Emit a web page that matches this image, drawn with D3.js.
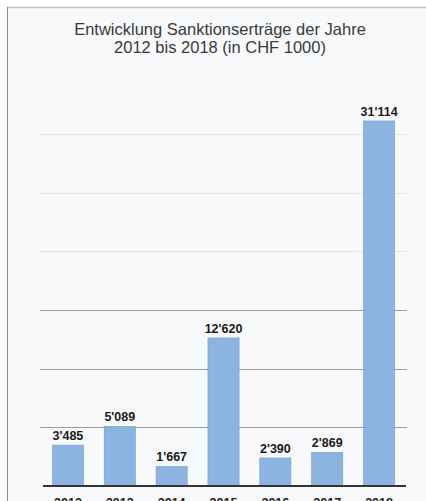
<!DOCTYPE html>
<html>
<head>
<meta charset="utf-8">
<script src="https://cdn.jsdelivr.net/npm/d3@7"></script>
<style>
  html, body { margin: 0; padding: 0; background: #ffffff; }
  svg { display: block; }
</style>
</head>
<body>
<svg id="chart" width="426" height="501"></svg>
<script>
const years = ["2012", "2013", "2014", "2015", "2016", "2017", "2018"];
const values = [3485, 5089, 1667, 12620, 2390, 2869, 31114];
const valueLabels = ["3'485", "5'089", "1'667", "12'620", "2'390", "2'869", "31'114"];
const gridTicks = [5000, 10000, 15000, 20000, 25000, 30000];
const titleLines = ["Entwicklung Sanktionserträge der Jahre", "2012 bis 2018 (in CHF 1000)"];

const svg = d3.select("#chart");
const W = 426, H = 501;

// panel background and frame
svg.append("rect").attr("x", 0).attr("y", 0).attr("width", W).attr("height", H).attr("fill", "#ffffff");
svg.append("rect").attr("x", 7).attr("y", 7).attr("width", W - 7).attr("height", H - 7).attr("fill", "#f8f9fa");
svg.append("line").attr("x1", 7).attr("x2", W).attr("y1", 7.5).attr("y2", 7.5)
  .attr("stroke", "#c4c4c4").attr("stroke-width", 1.5);
svg.append("line").attr("x1", 7.5).attr("x2", 7.5).attr("y1", 7).attr("y2", H)
  .attr("stroke", "#8a8a8a").attr("stroke-width", 1);

const x = d3.scaleBand().domain(years).range([42, 405]).paddingInner(0.4).paddingOuter(0.2);
const y = d3.scaleLinear().domain([0, 30000]).range([486, 134]);

// title
svg.append("text")
  .attr("x", 220).attr("y", 35)
  .attr("text-anchor", "middle")
  .style("font-family", "'Liberation Sans', Arial, sans-serif")
  .style("font-size", "16.5px")
  .attr("fill", "#3a3a3a")
  .selectAll("tspan").data(titleLines).join("tspan")
  .attr("x", 220).attr("dy", (d, i) => i === 0 ? 0 : 17.5)
  .text(d => d);

// gridlines
svg.append("g").selectAll("line").data(gridTicks).join("line")
  .attr("x1", 40).attr("x2", 407)
  .attr("y1", d => Math.round(y(d)) + 0.5).attr("y2", d => Math.round(y(d)) + 0.5)
  .attr("stroke", d => d > 15000 ? "#e3e4e6" : "#9c9c9c")
  .attr("stroke-width", 1);

// bars
svg.append("g").selectAll("rect").data(values).join("rect")
  .attr("x", (d, i) => x(years[i]))
  .attr("y", d => y(d))
  .attr("width", x.bandwidth())
  .attr("height", d => y(0) - y(d))
  .attr("fill", "#8cb4e1")
  .attr("stroke", "#6d9fd2")
  .attr("stroke-width", 0.6);

// baseline axis
const xAxis = d3.axisBottom(x).tickSize(0).tickPadding(12);
const ax = svg.append("g").attr("transform", `translate(0,${y(0)})`).call(xAxis);
ax.select(".domain").attr("d", "M43,0H406").attr("stroke", "#333333").attr("stroke-width", 2);
ax.selectAll("text")
  .style("font-family", "'Liberation Sans', Arial, sans-serif")
  .style("font-size", "12.5px")
  .style("font-weight", "bold")
  .attr("fill", "#222222");

// value labels
svg.append("g").selectAll("text").data(values).join("text")
  .attr("x", (d, i) => x(years[i]) + x.bandwidth() / 2)
  .attr("y", d => y(d) - 5)
  .attr("text-anchor", "middle")
  .style("font-family", "'Liberation Sans', Arial, sans-serif")
  .style("font-size", "12.5px")
  .style("font-weight", "bold")
  .attr("fill", "#1a1a1a")
  .text((d, i) => valueLabels[i]);
</script>
</body>
</html>
